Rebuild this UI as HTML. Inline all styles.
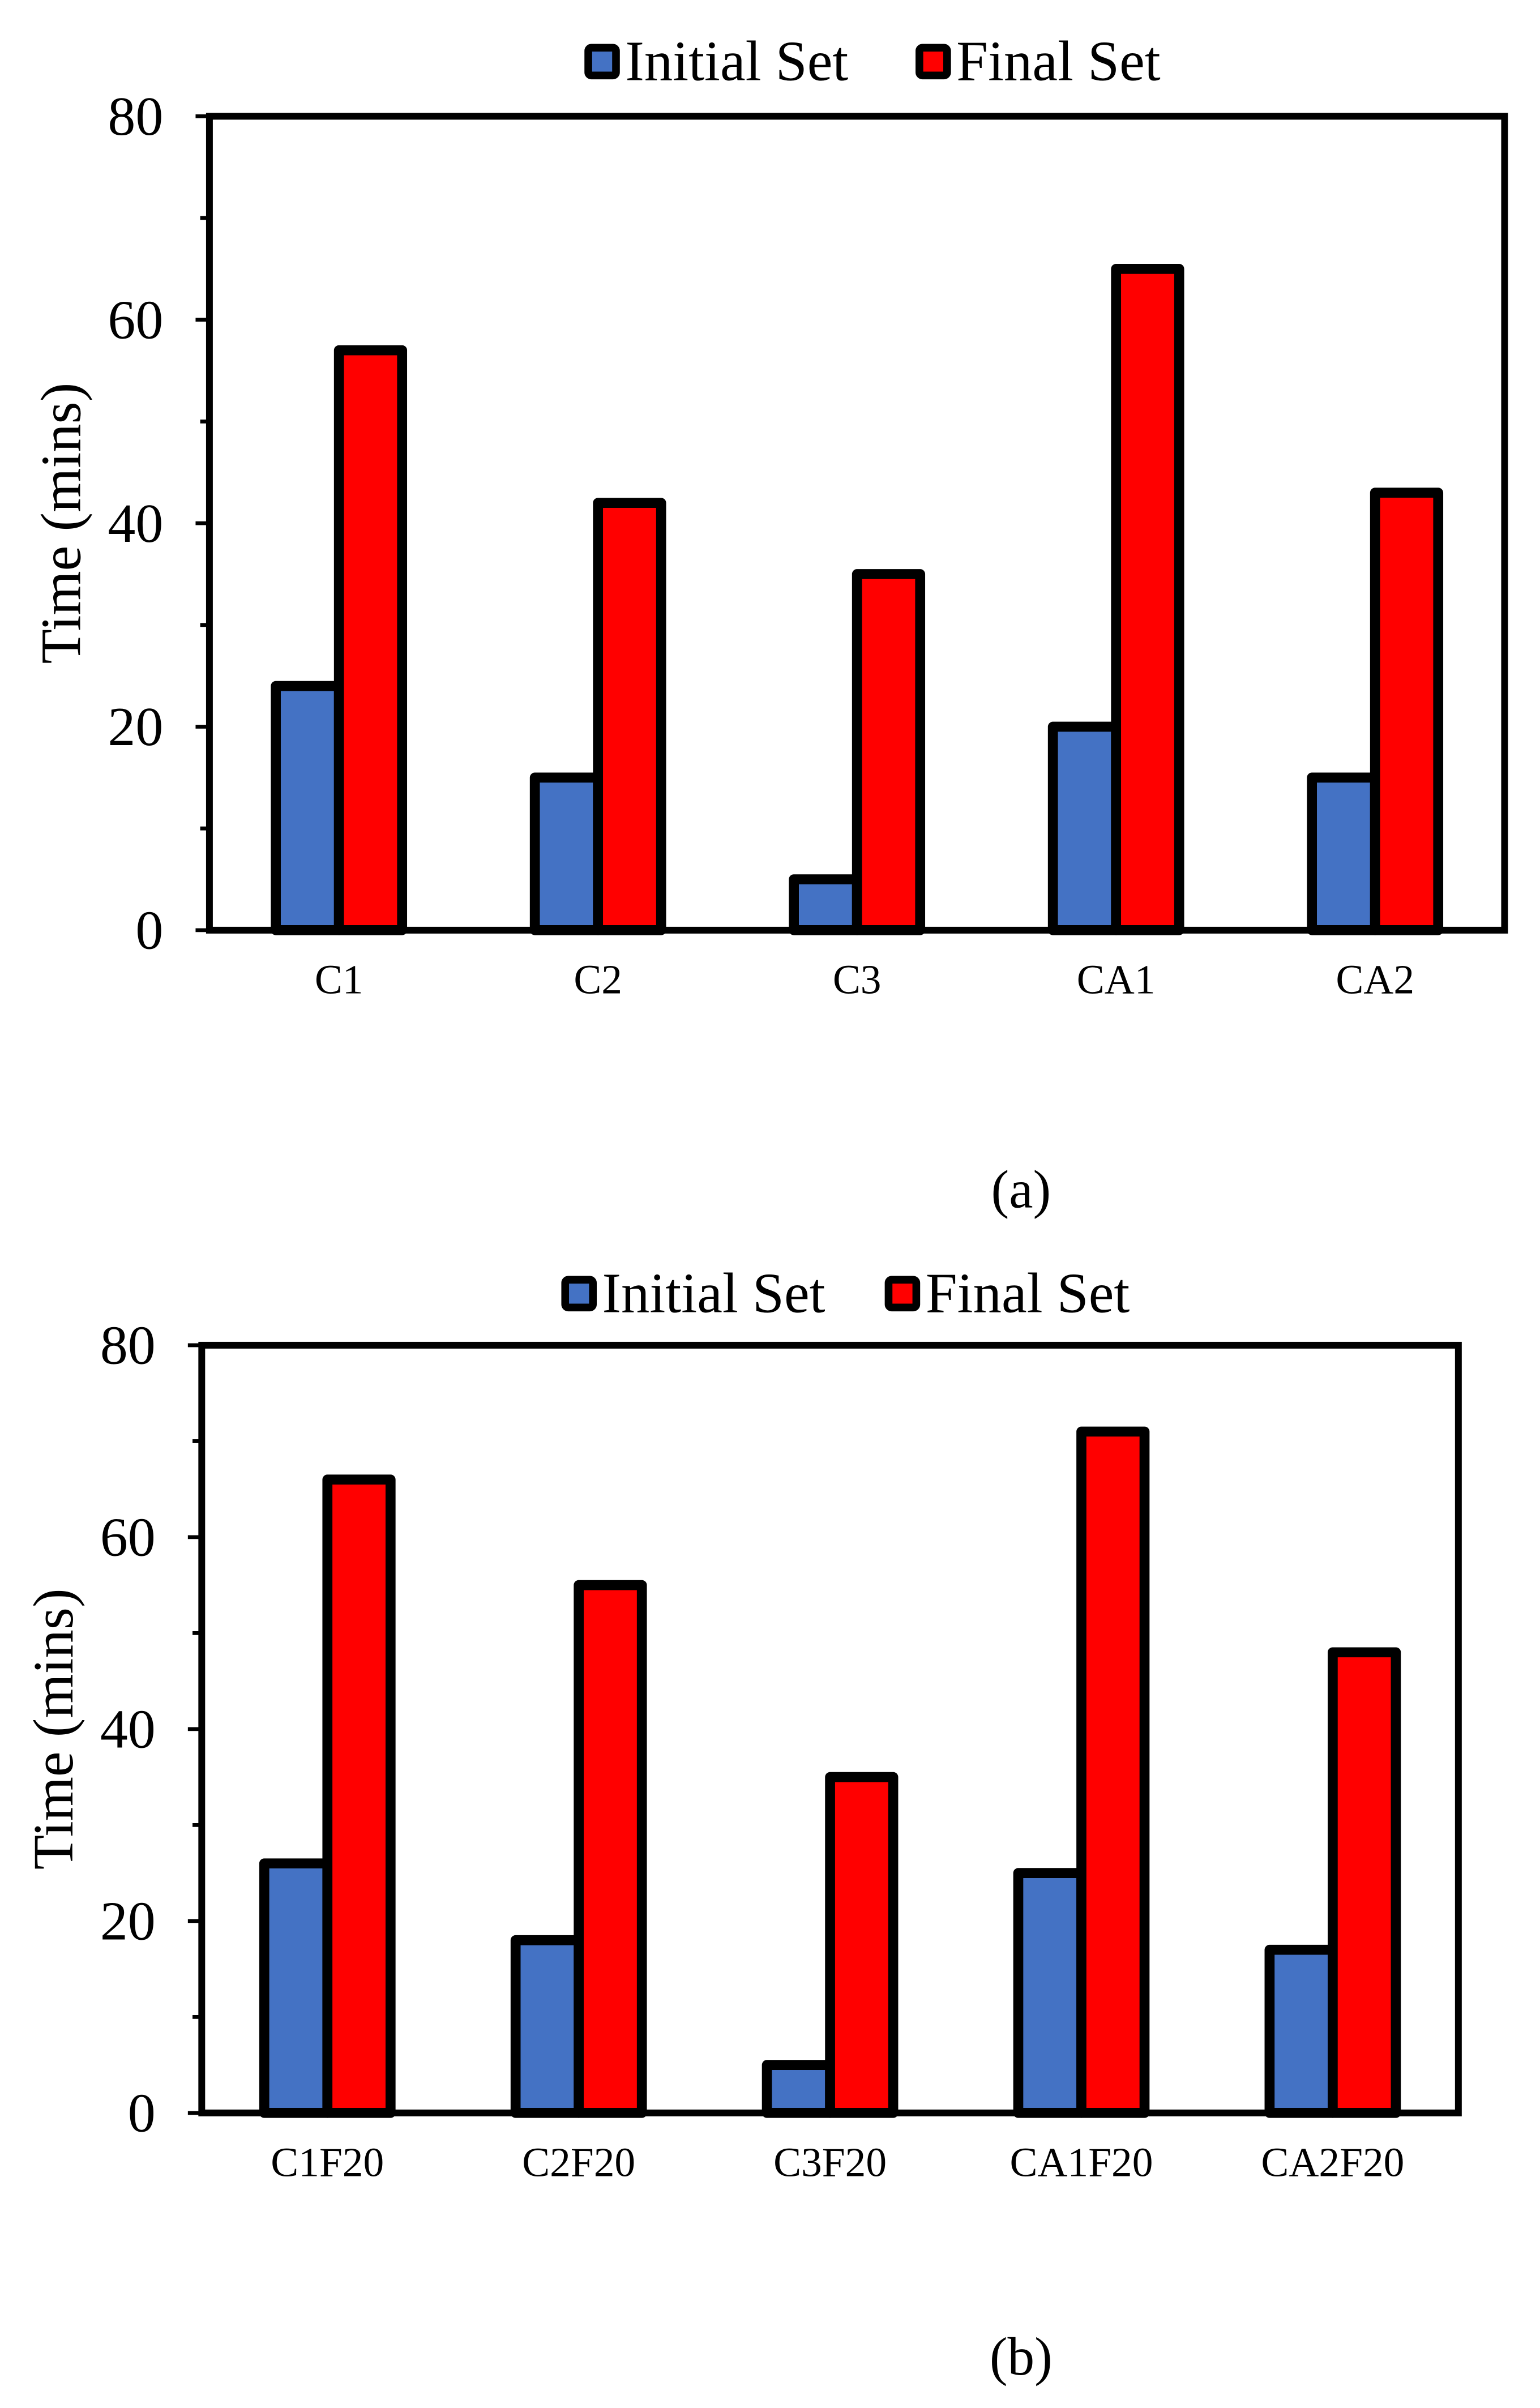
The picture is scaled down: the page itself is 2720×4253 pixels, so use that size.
<!DOCTYPE html>
<html><head><meta charset="utf-8"><style>
html,body{margin:0;padding:0;background:#fff;}
svg{display:block;}
text{font-family:"Liberation Serif",serif;fill:#000;}
</style></head><body>
<svg id="fig" width="2720" height="4253" viewBox="0 0 1000 1563.6"></svg>
<script>
const categoriesA = ["C1","C2","C3","CA1","CA2"];
const initialA = [24,15,5,20,15];
const finalA = [57,42,35,65,43];
const categoriesB = ["C1F20","C2F20","C3F20","CA1F20","CA2F20"];
const initialB = [26,18,5,25,17];
const finalB = [66,55,35,71,48];
const yTicks = [0,20,40,60,80];
const seriesNames = ["Initial Set","Final Set"];

const NS="http://www.w3.org/2000/svg";
const svg=document.getElementById('fig');
function mk(tag,attrs,parent){const e=document.createElementNS(NS,tag);for(const k in attrs)e.setAttribute(k,attrs[k]);(parent||svg).appendChild(e);return e;}

function chart(cfg){
  const g=mk('g',{});
  
  
  const L=cfg.left,R=cfg.right,T=cfg.top,B=cfg.bottom;
  const y=v=>B-(v/80)*(B-T);
  const n=cfg.cats.length, step=(R-L)/n;
  const xc=i=>L+step*(i+0.5);
  const bw=41;
  const lg=mk('g',{},g);
  
  
  cfg.legend.forEach((le,i)=>{
    const r=mk('rect',{x:le.x,y:cfg.legY,width:18,height:18,rx:2,fill:i?'#FF0000':'#4472C4',stroke:'#000','stroke-width':5,'stroke-linejoin':'round'},lg);
    
    
    const t=mk('text',{x:le.x+24,y:cfg.legY+21,'font-size':37},lg);
    t.textContent=seriesNames[i];
    
    
  });
  cfg.cats.forEach((c,i)=>{
    const x=xc(i);
    const b1=mk('rect',{x:x-bw,y:y(cfg.init[i]),width:bw,height:B-y(cfg.init[i]),fill:'#4472C4',stroke:'#000','stroke-width':6.5,'stroke-linejoin':'round'},g);
    
    
    const b2=mk('rect',{x:x,y:y(cfg.fin[i]),width:bw,height:B-y(cfg.fin[i]),fill:'#FF0000',stroke:'#000','stroke-width':6.5,'stroke-linejoin':'round'},g);
    
    
    const t=mk('text',{x:x,y:B+41,'font-size':27,'text-anchor':'middle'},g);
    t.textContent=c;
    
    
  });
  const f=mk('rect',{x:L,y:T,width:R-L,height:B-T,fill:'none',stroke:'#000','stroke-width':4.4},g);
  
  
  for(let v=0;v<=80;v+=10){
    const major=v%20===0;
    const tk=mk('line',{x1:L-(major?9:6),x2:L,y1:y(v),y2:y(v),stroke:'#000','stroke-width':2.5},g);
    
    
  }
  yTicks.forEach(v=>{
    const t=mk('text',{x:L-30,y:y(v)+12,'font-size':36,'text-anchor':'end'},g);
    t.textContent=v;
    
    
  });
  const yt=mk('text',{x:0,y:0,'font-size':37,'text-anchor':'middle',transform:`translate(${cfg.ytX},${(T+B)/2}) rotate(-90)`},g);
  yt.textContent='Time (mins)';
  
  
  const cap=mk('text',{x:663,y:cfg.capY,'font-size':35,'text-anchor':'middle'},g);
  cap.textContent=cfg.caption;
  
  
}
chart({name:'chart-a',cats:categoriesA,init:initialA,fin:finalA,left:136,right:977,top:75.5,bottom:604,legY:31,legend:[{x:382},{x:597}],ytX:52,capY:784,caption:'(a)'});
chart({name:'chart-b',cats:categoriesB,init:initialB,fin:finalB,left:131,right:947,top:873.5,bottom:1372,legY:831,legend:[{x:367},{x:577}],ytX:47,capY:1542,caption:'(b)'});
</script>
</body></html>
